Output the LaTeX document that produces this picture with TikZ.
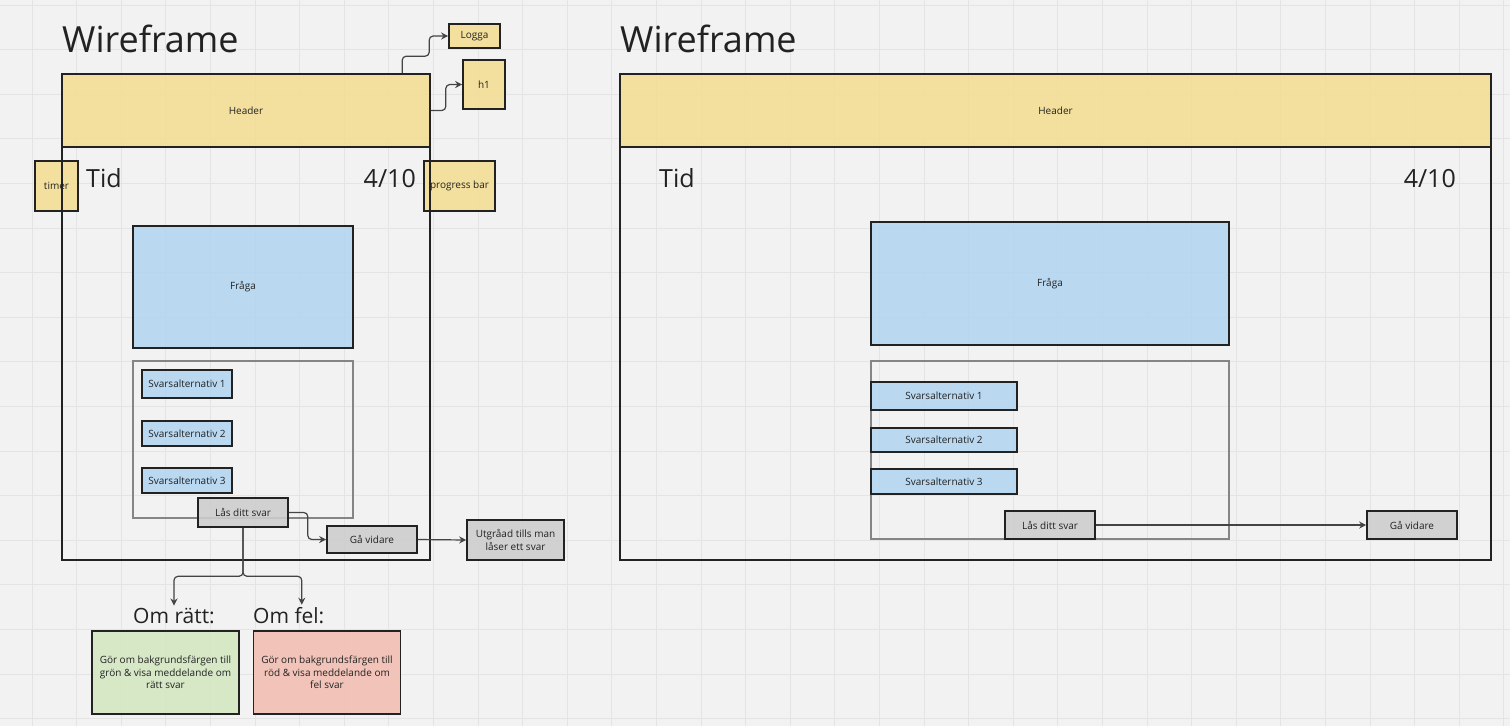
\documentclass[tikz,border=0pt]{standalone}
\usepackage{fontspec}
\setmainfont{Open Sans}
\usepackage{xcolor}
\usepackage{tikz}
\usetikzlibrary{arrows.meta}

\definecolor{bgcol}{HTML}{F2F2F2}
\definecolor{gridcol}{HTML}{E4E4E4}
\definecolor{inkcol}{HTML}{222222}
\definecolor{linecol}{HTML}{444444}
\definecolor{headcol}{HTML}{F5DE93}
\definecolor{askcol}{HTML}{B3D6F1}
\definecolor{btncol}{HTML}{CDCDCD}
\definecolor{okcol}{HTML}{D4E7C2}
\definecolor{badcol}{HTML}{F3BEB2}
\definecolor{holdcol}{HTML}{858585}

\begin{document}
\begin{tikzpicture}[x=1pt,y=-1pt,
  every node/.style={text=inkcol},
  box/.style={shape=rectangle,draw=inkcol,line width=1.6pt,inner sep=0pt,fill opacity=.88,text opacity=1,font=\fontsize{10}{12.5}\selectfont},
  sticky/.style={box,fill=headcol},
  askbox/.style={box,fill=askcol},
  btnbox/.style={box,fill=btncol},
  frame/.style={shape=rectangle,draw=inkcol,line width=1.5pt,inner sep=0pt},
  holder/.style={shape=rectangle,draw=holdcol,line width=1.3pt,inner sep=0pt},
  bigtitle/.style={inner sep=0pt,anchor=base west,font=\fontsize{36}{40}\selectfont},
  midtext/.style={inner sep=0pt,font=\fontsize{25}{28}\selectfont},
  casetext/.style={inner sep=2pt,anchor=base west,font=\fontsize{21}{24}\selectfont},
  conn/.style={draw=linecol,line width=1.2pt,rounded corners=4pt,-{Stealth[length=7pt,width=7pt]}},
  gridline/.style={draw=gridcol,line width=.8pt}]

% background
\fill[bgcol] (0,0) rectangle (1510,726);
\useasboundingbox (0,0) rectangle (1510,726);
\foreach \gx in {0,...,33} \draw[gridline] (32+44.6*\gx,0) -- (32+44.6*\gx,726);
\foreach \gy in {0,...,16} \draw[gridline] (0,5+44.6*\gy) -- (1510,5+44.6*\gy);

% nodes (left wireframe)
\node[bigtitle] (titleA) at (62,52) {Wireframe};
\node[sticky,minimum width=43,minimum height=50] (timer) at (56.5,186) {timer};
\node[sticky,minimum width=71,minimum height=50] (progress) at (459.5,186) {progress bar};
\node[frame,minimum width=368,minimum height=486] (frameA) at (246,317) {};
\node[sticky,minimum width=368,minimum height=73] (headA) at (246,110.5) {Header};
\node[sticky,minimum width=51,minimum height=24] (logga) at (474.5,36) {Logga};
\node[sticky,minimum width=42,minimum height=49] (h1) at (484,84.5) {h1};
\node[midtext,anchor=base west] (tidA) at (86,187) {Tid};
\node[midtext,anchor=base east] (countA) at (416,187) {4/10};
\node[askbox,minimum width=220,minimum height=122] (askA) at (243,287) {Fråga};
\node[holder,minimum width=220,minimum height=157] (holdA) at (243,439.5) {};
\node[askbox,minimum width=90,minimum height=28] (altA1) at (187,384) {Svarsalternativ 1};
\node[askbox,minimum width=90,minimum height=25] (altA2) at (187,433.5) {Svarsalternativ 2};
\node[askbox,minimum width=90,minimum height=25] (altA3) at (187,480.5) {Svarsalternativ 3};
\node[btnbox,minimum width=90,minimum height=29] (lockA) at (243,512.5) {Lås ditt svar};
\node[btnbox,minimum width=90,minimum height=27] (nextA) at (372,539.5) {Gå vidare};
\node[btnbox,minimum width=97,minimum height=40,align=center] (greyed) at (515.5,540) {Utgråad tills man\\låser ett svar};
\node[casetext] (omratt) at (131,623) {Om rätt:};
\node[casetext] (omfel) at (251,623) {Om fel:};
\node[box,fill=okcol,minimum width=147,minimum height=83,align=center] (okbox) at (165.5,672.5) {Gör om bakgrundsfärgen till\\grön \& visa meddelande om\\rätt svar};
\node[box,fill=badcol,minimum width=147,minimum height=83,align=center] (badbox) at (327,672.5) {Gör om bakgrundsfärgen till\\röd \& visa meddelande om\\fel svar};

% nodes (right wireframe)
\node[bigtitle] (titleB) at (620,52) {Wireframe};
\node[frame,minimum width=871,minimum height=486] (frameB) at (1055.5,317) {};
\node[sticky,minimum width=871,minimum height=73] (headB) at (1055.5,110.5) {Header};
\node[midtext,anchor=base west] (tidB) at (659,187) {Tid};
\node[midtext,anchor=base east] (countB) at (1456,187) {4/10};
\node[askbox,minimum width=358,minimum height=123] (askB) at (1050,283.5) {Fråga};
\node[holder,minimum width=358,minimum height=178] (holdB) at (1050,450) {};
\node[askbox,minimum width=146,minimum height=28] (altB1) at (944,396) {Svarsalternativ 1};
\node[askbox,minimum width=146,minimum height=24] (altB2) at (944,440) {Svarsalternativ 2};
\node[askbox,minimum width=146,minimum height=25] (altB3) at (944,481.5) {Svarsalternativ 3};
\node[btnbox,minimum width=90,minimum height=28] (lockB) at (1050,525) {Lås ditt svar};
\node[btnbox,minimum width=90,minimum height=28] (nextB) at (1412,525) {Gå vidare};

%% arrows
\draw[conn] ([xshift=341pt]headA.north west) -- ++(0,-17) -| ++(27,-10) |- (logga.west);
\draw[conn] (headA.east) -- ++(15,0) |- (h1.west);
\draw[conn] (lockA.east) -- ++(19,0) |- (nextA.west);
\draw[conn] (nextA.east) -- (greyed.west);
\draw[conn] (lockA.south) -- ++(0,48.5) -| (omratt.north);
\draw[conn] (lockA.south) -- ++(0,48.5) -| ([xshift=13pt]omfel.north);
\draw[conn] (lockB.east) -- (nextB.west);

\end{tikzpicture}
\end{document}
